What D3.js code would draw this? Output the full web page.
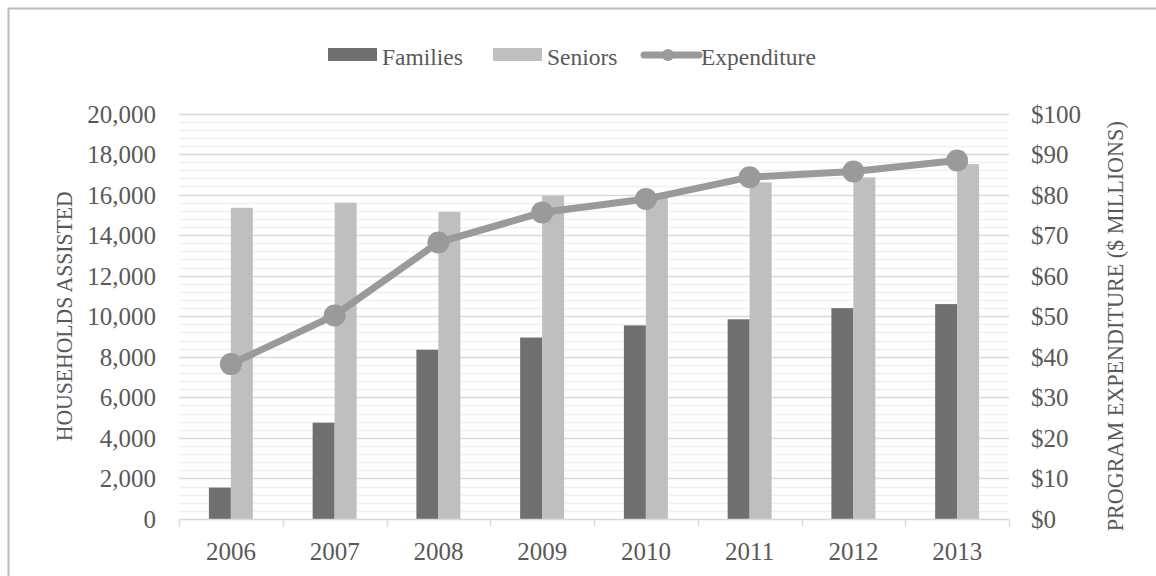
<!DOCTYPE html>
<html>
<head>
<meta charset="utf-8">
<script src="https://cdn.jsdelivr.net/npm/d3@7"></script>
<style>
  html, body { margin: 0; padding: 0; background: #fff; }
  svg { display: block; }
  text { font-family: "Liberation Serif", "DejaVu Serif", serif; fill: #595959; }
</style>
</head>
<body>
<svg id="chart" width="1156" height="576"></svg>
<script>
// Households assisted by year, plus total program expenditure
const years = ["2006", "2007", "2008", "2009", "2010", "2011", "2012", "2013"];
const families = [1550, 4750, 8350, 8950, 9550, 9850, 10400, 10600];
const seniors = [15350, 15600, 15150, 15950, 16000, 16600, 16850, 17500];
const expenditure = [38.2, 50.2, 68.2, 75.6, 78.9, 84.3, 85.7, 88.4];
const leftTicks = [0, 2000, 4000, 6000, 8000, 10000, 12000, 14000, 16000, 18000, 20000];
const rightTicks = [0, 10, 20, 30, 40, 50, 60, 70, 80, 90, 100];
const seriesNames = ["Families", "Seniors", "Expenditure"];

const colors = { Families: "#707070", Seniors: "#bfbfbf", Expenditure: "#9a9a9a" };

const svg = d3.select("#chart");
const plot = { left: 179, right: 1009, top: 113.5, bottom: 519 };

// outer chart frame
svg.append("rect")
  .attr("x", 8.5).attr("y", 8.5)
  .attr("width", 1300).attr("height", 800)
  .attr("fill", "none").attr("stroke", "#bcbcbc").attr("stroke-width", 2);

const x = d3.scaleBand().domain(years).range([plot.left, plot.right]).padding(0);
const x1 = d3.scaleBand().domain(["Families", "Seniors"]).range([0, x.bandwidth()])
  .paddingInner(0).paddingOuter(1.36);
const yL = d3.scaleLinear().domain([0, 20000]).range([plot.bottom, plot.top]);
const yR = d3.scaleLinear().domain([0, 100]).range([plot.bottom, plot.top]);

// minor gridlines every 400 households
const minor = d3.range(400, 20001, 400).filter(v => v % 2000 !== 0);
svg.append("g").selectAll("line").data(minor).join("line")
  .attr("x1", plot.left).attr("x2", plot.right)
  .attr("y1", d => Math.round(yL(d)) + 0.5).attr("y2", d => Math.round(yL(d)) + 0.5)
  .attr("stroke", "#f0f0f0").attr("stroke-width", 1.5);

// major gridlines
svg.append("g").selectAll("line").data(leftTicks.filter(d => d > 0)).join("line")
  .attr("x1", plot.left).attr("x2", plot.right)
  .attr("y1", d => Math.round(yL(d)) + 0.5).attr("y2", d => Math.round(yL(d)) + 0.5)
  .attr("stroke", "#d9d9d9").attr("stroke-width", 1.5);

// bars
const barData = years.map((yr, i) => ({ year: yr, values: [
  { key: "Families", value: families[i] },
  { key: "Seniors", value: seniors[i] }
]}));
svg.append("g").selectAll("g").data(barData).join("g")
  .attr("transform", d => `translate(${x(d.year)},0)`)
  .selectAll("rect").data(d => d.values).join("rect")
  .attr("x", d => x1(d.key))
  .attr("width", x1.bandwidth())
  .attr("y", d => yL(d.value))
  .attr("height", d => yL(0) - yL(d.value))
  .attr("fill", d => colors[d.key]);

// category axis
const xAxis = svg.append("g").attr("transform", `translate(0,${plot.bottom + 0.5})`);
xAxis.append("line").attr("x1", plot.left).attr("x2", plot.right)
  .attr("stroke", "#d9d9d9").attr("stroke-width", 1.5);
const boundaries = years.map(y => x(y)).concat([plot.right]);
xAxis.selectAll("line.tick").data(boundaries).join("line")
  .attr("class", "tick")
  .attr("x1", d => Math.round(d) + 0.5).attr("x2", d => Math.round(d) + 0.5)
  .attr("y1", 0).attr("y2", 7)
  .attr("stroke", "#d9d9d9").attr("stroke-width", 1.5);
xAxis.selectAll("text").data(years).join("text")
  .attr("x", d => x(d) + x.bandwidth() / 2)
  .attr("y", 40)
  .attr("text-anchor", "middle")
  .attr("font-size", 25)
  .text(d => d);

// left value axis
svg.append("g").selectAll("text").data(leftTicks).join("text")
  .attr("x", 156).attr("y", d => yL(d) + 9)
  .attr("text-anchor", "end")
  .attr("font-size", 25)
  .text(d => d3.format(",")(d));

// right value axis
svg.append("g").selectAll("text").data(rightTicks).join("text")
  .attr("x", 1031).attr("y", d => yR(d) + 9)
  .attr("text-anchor", "start")
  .attr("font-size", 25)
  .text(d => "$" + d);

// axis titles
const midY = (plot.top + plot.bottom) / 2;
svg.append("text")
  .attr("transform", `translate(72,${midY}) rotate(-90)`)
  .attr("text-anchor", "middle")
  .attr("font-size", 24)
  .attr("textLength", 250).attr("lengthAdjust", "spacingAndGlyphs")
  .text("HOUSEHOLDS ASSISTED");
svg.append("text")
  .attr("transform", `translate(1123,${midY + 10}) rotate(-90)`)
  .attr("text-anchor", "middle")
  .attr("font-size", 24)
  .attr("textLength", 410).attr("lengthAdjust", "spacingAndGlyphs")
  .text("PROGRAM EXPENDITURE ($ MILLIONS)");

// expenditure line with markers
const cx = (d, i) => x(years[i]) + x.bandwidth() / 2;
const line = d3.line().x(cx).y(d => yR(d));
svg.append("path").datum(expenditure)
  .attr("d", line)
  .attr("fill", "none")
  .attr("stroke", colors.Expenditure)
  .attr("stroke-width", 7)
  .attr("stroke-linejoin", "round");
svg.append("g").selectAll("circle").data(expenditure).join("circle")
  .attr("cx", cx).attr("cy", d => yR(d)).attr("r", 11)
  .attr("fill", colors.Expenditure);

// legend
const legend = svg.append("g");
const legendItems = [
  { key: "Families", x: 328 },
  { key: "Seniors", x: 493 },
  { key: "Expenditure", x: 644 }
];
legendItems.forEach(item => {
  const g = legend.append("g").attr("transform", `translate(${item.x},0)`);
  if (item.key === "Expenditure") {
    g.append("line").attr("x1", 0).attr("x2", 55).attr("y1", 55).attr("y2", 55)
      .attr("stroke", colors.Expenditure).attr("stroke-width", 7).attr("stroke-linecap", "round");
    g.append("circle").attr("cx", 24).attr("cy", 55).attr("r", 6).attr("fill", colors.Expenditure);
  } else {
    g.append("rect").attr("x", 0).attr("y", 48).attr("width", 49).attr("height", 13)
      .attr("fill", colors[item.key]);
  }
  g.append("text").attr("x", item.key === "Expenditure" ? 57 : 54).attr("y", 65)
    .attr("font-size", 23.5)
    .text(seriesNames[seriesNames.indexOf(item.key)]);
});
</script>
</body>
</html>
